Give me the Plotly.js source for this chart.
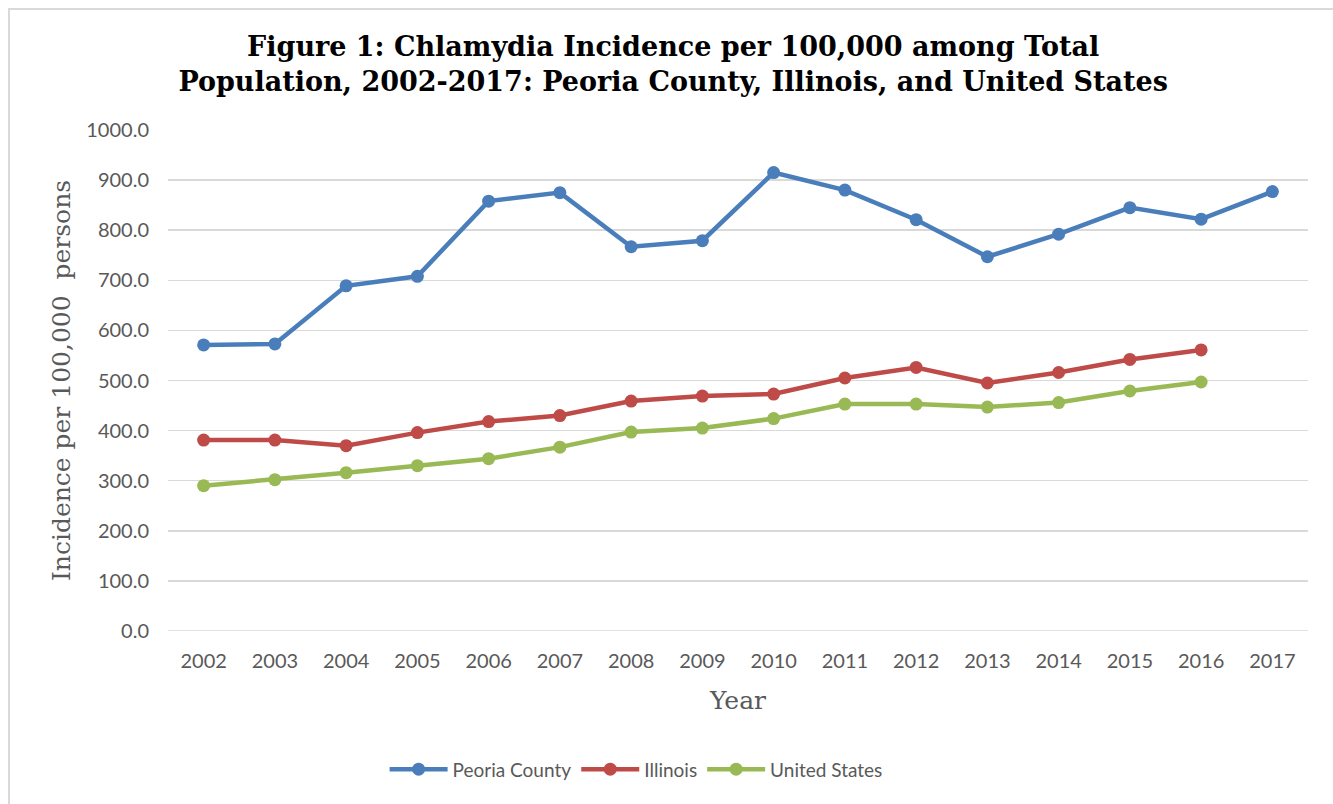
<!DOCTYPE html>
<html><head><meta charset="utf-8">
<script src="https://cdn.plot.ly/plotly-3.0.1.min.js"></script>
<style>
html,body{margin:0;padding:0;background:#fff;}
#frame{position:absolute;left:8px;top:8px;width:1400px;height:900px;border-left:2px solid #d9d9d9;border-top:2px solid #d9d9d9;box-sizing:border-box;}
#chart{position:absolute;left:0;top:0;width:1333px;height:804px;}
</style></head>
<body>
<div id="frame"></div>
<div id="chart"></div>
<script>
const years = ['2002','2003','2004','2005','2006','2007','2008','2009','2010','2011','2012','2013','2014','2015','2016','2017'];
const peoria = [571, 573, 689, 708, 858, 875, 767, 779, 915, 880, 821, 747, 792, 845, 822, 877];
const illinois = [381, 381, 370, 396, 418, 430, 459, 469, 473, 505, 526, 495, 516, 542, 561];
const us = [290, 302, 316, 330, 344, 367, 397, 405, 424, 453, 453, 447, 456, 479, 497];
const names = ['Peoria County','Illinois','United States'];
const colors = ['#4A7EBB','#BE4B48','#98B954'];
const series = [peoria, illinois, us];

const traces = series.map((s,i)=>({
  x: years.slice(0, s.length), y: s, name: names[i], type:'scatter', mode:'lines+markers',
  line:{color:colors[i], width:4.5}, marker:{color:colors[i], size:13}
}));

const layout = {
  width:1333, height:804,
  margin:{l:168, r:25, t:130, b:173},
  paper_bgcolor:'rgba(0,0,0,0)', plot_bgcolor:'rgba(0,0,0,0)',
  title:{text:'<b>Figure 1: Chlamydia Incidence per 100,000 among Total<br>Population, 2002-2017: Peoria County, Illinois, and United States</b>',
    font:{family:'DejaVu Serif', size:27, color:'#000'}, x:0.505, xanchor:'center', y:0.93, yanchor:'top'},
  xaxis:{type:'category', range:[-0.5,15.5], showgrid:false, zeroline:false, showline:false,
    ticks:'', tickfont:{family:'Lato', size:20, color:'#595959'}, ticklabelstandoff:16,
    title:{text:'Year', font:{family:'DejaVu Serif', size:25, color:'#595959'}, standoff:20}},
  yaxis:{range:[0,1000], dtick:100, tickformat:'.1f', gridcolor:'#d9d9d9', gridwidth:1.5,
    zeroline:false, showline:false, ticks:'', ticklen:0, ticklabelstandoff:18,
    tickfont:{family:'Lato', size:20, color:'#595959'},
    title:{text:'Incidence per 100,000  persons', font:{family:'DejaVu Serif', size:25, color:'#595959'}, standoff:8}},
  shapes:[{type:'line', xref:'paper', yref:'y', x0:0, x1:1, y0:0, y1:0, line:{color:'#d9d9d9', width:1.5}}],
  legend:{orientation:'h', x:0.19, xanchor:'left', y:-0.276, yanchor:'middle', itemwidth:58,
    font:{family:'Lato', size:19, color:'#595959'}, tracegroupgap:0},
  showlegend:true
};
Plotly.newPlot('chart', traces, layout, {displayModeBar:false, staticPlot:true});
</script>
</body></html>
